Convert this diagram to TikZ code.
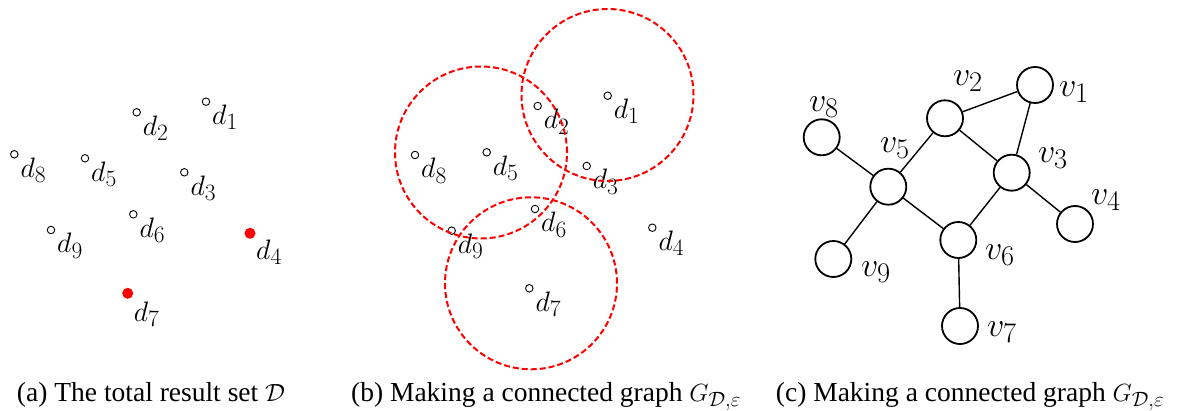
\documentclass[tikz,border=0pt]{standalone}
\usepackage[no-math]{fontspec}
\usepackage{graphicx}
\setmainfont{Liberation Serif}
\newcommand{\mydlab}[1]{\scalebox{1.13}{$d_{#1}$}}
\newcommand{\myvlab}[1]{\scalebox{1.37}{$v_{#1}$}}
\begin{document}
\begin{tikzpicture}[x=1pt,y=-1pt,
  pt/.style={circle,draw,line width=0.9pt,minimum size=7.5pt,inner sep=0pt},
  redpt/.style={circle,fill=red,minimum size=11pt,inner sep=0pt},
  dlab/.style={anchor=north west,inner sep=0pt,font=\fontsize{24.88}{30}\selectfont},
  rng/.style={draw=red,line width=2pt,dash pattern=on 6pt off 3pt},
  vnode/.style={circle,draw,line width=1.8pt,minimum size=36pt,inner sep=0pt},
  vlab/.style={inner sep=0pt,font=\fontsize{24.88}{30}\selectfont},
  edge/.style={line width=1.4pt},
  captext/.style={anchor=base,inner sep=0pt,font=\fontsize{27.5}{32}\selectfont}]
\useasboundingbox (0,0) rectangle (1183,411);

% ---------- (a) ----------
\node[pt] (a1) at (206,101.7) {};
\node[pt] (a2) at (136.7,112.3) {};
\node[pt] (a3) at (184.3,172.3) {};
\node[redpt] (a4) at (250,233.3) {};
\node[pt] (a5) at (85,158.3) {};
\node[pt] (a6) at (133.3,214.3) {};
\node[redpt] (a7) at (127.7,293.3) {};
\node[pt] (a8) at (14.3,154.3) {};
\node[pt] (a9) at (51,230) {};
\foreach \i in {1,2,3,5,6,8,9}{
  \node[dlab] (la\i) at ([shift={(6,3)}]a\i.center) {\mydlab{\i}};
}
\node[dlab] (la4) at ([shift={(6,6)}]a4.center) {\mydlab{4}};
\node[dlab] (la7) at ([shift={(6,8)}]a7.center) {\mydlab{7}};

% ---------- (b) ----------
\node[pt] (b1) at (607.7,95.7) {};
\node[pt] (b2) at (537.7,106) {};
\node[pt] (b3) at (586.7,166) {};
\node[pt] (b4) at (652.3,227.7) {};
\node[pt] (b5) at (486.7,152.3) {};
\node[pt] (b6) at (535,209) {};
\node[pt] (b7) at (529.3,288.3) {};
\node[pt] (b8) at (415,155) {};
\node[pt] (b9) at (451.7,230.7) {};
\foreach \i in {1,...,9}{
  \node[dlab] (lb\i) at ([shift={(6,3)}]b\i.center) {\mydlab{\i}};
}
\draw[rng] (607.5,95) circle[radius=86pt];
\draw[rng] (481,152.5) circle[radius=86pt];
\draw[rng] (531,283.3) circle[radius=86pt];

% ---------- (c) ----------
\node[vnode] (v1) at (1035,85) {};
\node[vnode] (v2) at (945,118.3) {};
\node[vnode] (v3) at (1011.7,172.7) {};
\node[vnode] (v4) at (1075,224) {};
\node[vnode] (v5) at (888.3,186.7) {};
\node[vnode] (v6) at (958.3,240) {};
\node[vnode] (v7) at (960,326) {};
\node[vnode] (v8) at (821.7,137.3) {};
\node[vnode] (v9) at (833.3,259) {};
\draw[edge] (v2) -- (v1);
\draw[edge] (v1) -- (v3);
\draw[edge] (v2) -- (v3);
\draw[edge] (v2) -- (v5);
\draw[edge] (v8) -- (v5);
\draw[edge] (v5) -- (v6);
\draw[edge] (v5) -- (v9);
\draw[edge] (v3) -- (v6);
\draw[edge] (v3) -- (v4);
\draw[edge] (v6) -- (v7);
\node[vlab] (lv1) at (1074,92) {\myvlab{1}};
\node[vlab] (lv2) at (968,81) {\myvlab{2}};
\node[vlab] (lv3) at (1053,158) {\myvlab{3}};
\node[vlab] (lv4) at (1106,200) {\myvlab{4}};
\node[vlab] (lv5) at (895,148) {\myvlab{5}};
\node[vlab] (lv6) at (1000,255) {\myvlab{6}};
\node[vlab] (lv7) at (1002,332) {\myvlab{7}};
\node[vlab] (lv8) at (824,107) {\myvlab{8}};
\node[vlab] (lv9) at (876,272) {\myvlab{9}};

% ---------- captions ----------
\node[captext] (capa) at (151,401) {(a) The total result set $\mathcal{D}$};
\node[captext] (capb) at (546,401) {(b) Making a connected graph $G_{\mathcal{D},\varepsilon}$};
\node[captext] (capc) at (970,401) {(c) Making a connected graph $G_{\mathcal{D},\varepsilon}$};
\end{tikzpicture}
\end{document}
